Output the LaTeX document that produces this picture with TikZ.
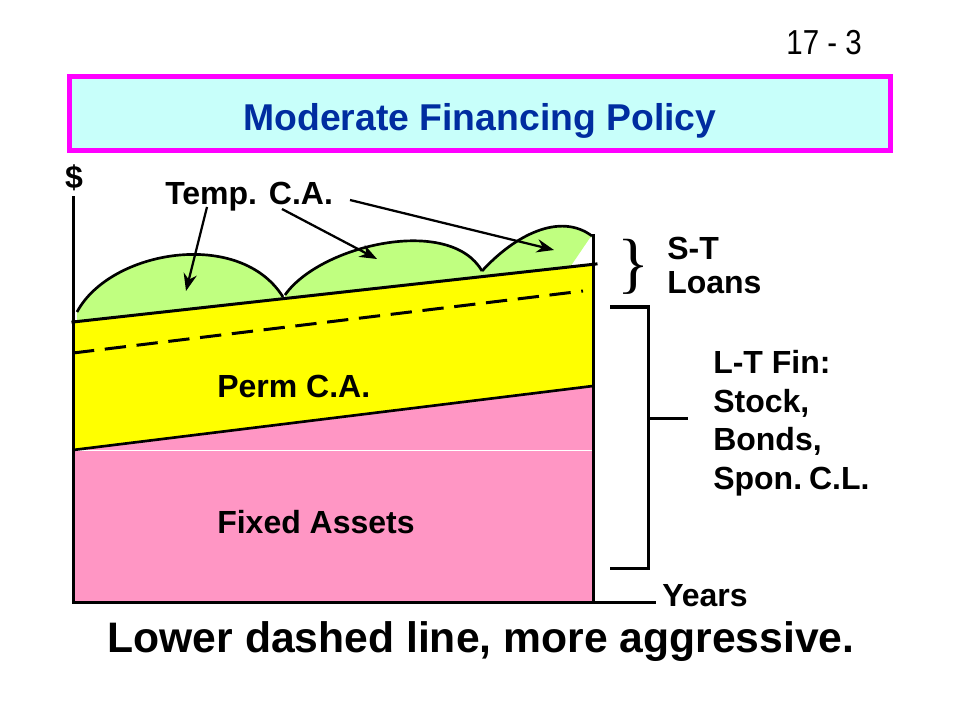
\documentclass[tikz,border=0pt]{standalone}
\usepackage{fontspec}
\setmainfont{Liberation Sans}
\newfontfamily\bracefont{Liberation Serif}
\usetikzlibrary{arrows.meta}
\definecolor{titleblue}{RGB}{0,45,160}
\definecolor{boxcyan}{RGB}{200,255,250}
\definecolor{boxmag}{RGB}{255,0,255}
\definecolor{tempgreen}{RGB}{192,255,128}
\definecolor{permyellow}{RGB}{255,255,0}
\definecolor{fixpink}{RGB}{255,150,196}
\tikzset{
  lbl/.style={font=\fontsize{24}{28.8}\selectfont\bfseries, inner sep=0pt, anchor=base west},
  heavy/.style={line width=2.25pt, line cap=rect},
  pointer/.style={line width=1.7pt, -{Stealth[length=13pt,width=10pt]}},
}
\begin{document}
\begin{tikzpicture}[x=0.75pt,y=-0.75pt]
\useasboundingbox (0,0) rectangle (960,720);
% page number
\node[font=\fontsize{26}{30}\selectfont, inner sep=0pt, anchor=base east, xscale=0.85] (pg) at (862,55) {17 - 3};
% title box
\node[draw=boxmag, line width=3.75pt, fill=boxcyan, minimum width=615.75pt, minimum height=55.5pt, inner sep=0pt] (tbox) at (480,113.5) {};
\node[font=\fontsize{28}{33}\selectfont\bfseries, text=titleblue, inner sep=0pt, anchor=base] (title) at (480,130.5) {Moderate Financing Policy};
% regions
\fill[fixpink] (73,602) -- (73,450) -- (593,386) -- (593,602) -- cycle;
\fill[permyellow] (73,450) -- (73,322) -- (593,264.4) -- (593,386) -- cycle;
% humps (temporary current assets)
\fill[tempgreen] (77,321.6) -- (77,312) .. controls (110,250) and (240,228) .. (283,297) -- (283,298.7) -- cycle;
\fill[tempgreen] (285,298.5) -- (285,295) .. controls (320,245) and (450,215) .. (482,271) -- (482,276.6) -- cycle;
\fill[tempgreen] (482,276.6) -- (482,271) .. controls (515,235) and (560,212) .. (592,236) -- (592,264.5) -- cycle;
\fill[white] (590,238) -- (594,236) -- (594,265) -- (571,266) -- cycle;
\draw[white, line width=0.9pt] (74,450.5) -- (592,450.5);
% boundary lines
\draw[line width=2pt] (73,450) -- (593,386);
\draw[heavy] (73,322) -- (596,264);
\draw[line width=2.25pt, dash pattern=on 16pt off 8pt] (73,353) -- (583,291);
\draw[line width=2pt] (77,312) .. controls (110,250) and (240,228) .. (283,297);
\draw[line width=2pt] (285,295) .. controls (320,245) and (450,215) .. (482,271);
\draw[line width=2pt] (482,271) .. controls (515,235) and (560,212) .. (592,236);
% axes and right edge
\coordinate (ytop) at (73,198);
\coordinate (orig) at (73,602);
\coordinate (xend) at (654,602);
\draw[heavy] (ytop) -- (orig) -- (xend);
\draw[heavy] (593,236) -- (593,602);
% labels
\node[lbl, anchor=base] (dollar) at (74,189) {\$};
\node[lbl] (years) at (662,606) {Years};
\node[lbl] (temp) at (165,205) {Temp. C.A.};
\node[lbl] (perm) at (217,397) {Perm C.A.};
\node[lbl] (fixed) at (217,533) {Fixed Assets};
% arrows
\coordinate (a1s) at (207,207);
\coordinate (a1e) at (186,291);
\coordinate (a2s) at (282,209);
\coordinate (a2e) at (377,259);
\coordinate (a3s) at (350,200);
\coordinate (a3e) at (554,250);
\draw[pointer] (a1s) -- (a1e);
\draw[pointer] (a2s) -- (a2e);
\draw[pointer] (a3s) -- (a3e);
% S-T loans
\node[inner sep=0pt, font=\bracefont\fontsize{50}{50}\selectfont] (brace) at (633,267) {\}};
\node[lbl] (st) at (667,260) {S-T};
\node[lbl] (loans) at (667,293) {Loans};
% L-T bracket
\coordinate (b1) at (610,307);
\coordinate (b2) at (648,307);
\coordinate (b3) at (648,568);
\coordinate (b4) at (610,568);
\coordinate (bm) at (648,418);
\coordinate (bt) at (688,418);
\draw[line width=2.25pt] (b1) -- (b2) -- (b3) -- (b4);
\draw[line width=2.25pt] (bm) -- (bt);
\node[lbl] (lt1) at (713,373) {L-T Fin:};
\node[lbl] (lt2) at (713,412) {Stock,};
\node[lbl] (lt3) at (713,450) {Bonds,};
\node[lbl] (lt4) at (713,489) {Spon.\kern-1.5pt\ C.L.};
% bottom caption
\node[font=\fontsize{32}{38}\selectfont\bfseries, inner sep=0pt, anchor=base] (caption) at (481,652) {Lower dashed line, more aggressive.};
\end{tikzpicture}
\end{document}
